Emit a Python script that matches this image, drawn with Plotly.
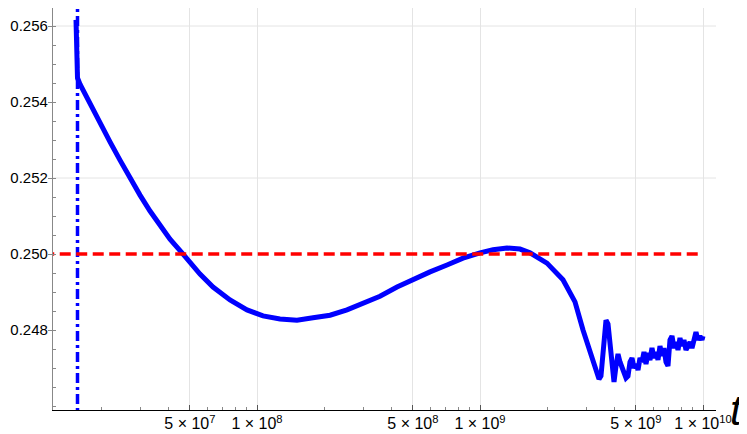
import plotly.graph_objects as go

# main curve, t values and level
t_main = [1.543e7, 1.551e7, 1.567e7, 1.608e7, 1.783e7, 1.977e7, 2.192e7, 2.430e7, 2.695e7, 2.988e7,
          3.313e7, 3.673e7, 4.073e7, 4.610e7, 5.007e7, 5.551e7, 6.350e7, 7.568e7, 9.02e7, 1.064e8,
          1.268e8, 1.511e8, 1.783e8, 2.126e8, 2.533e8, 2.988e8, 3.561e8, 4.245e8, 5.007e8, 5.969e8,
          7.112e8, 8.390e8, 1.0e9, 1.144e9, 1.321e9, 1.511e9, 1.676e9, 1.997e9, 2.356e9, 2.667e9,
          2.897e9, 3.113e9, 3.278e9, 3.417e9, 3.488e9, 3.561e9, 3.673e9, 3.750e9, 3.868e9]
v_main = [0.25616, 0.2555, 0.25463, 0.25447, 0.25395, 0.25345, 0.25295, 0.25247, 0.25200, 0.25155,
          0.25113, 0.25076, 0.25039, 0.25003, 0.24976, 0.24947, 0.24913, 0.24879, 0.24853, 0.24837,
          0.24829, 0.24826, 0.24832, 0.24839, 0.24853, 0.24871, 0.24889, 0.24913, 0.24934, 0.24953,
          0.24971, 0.24989, 0.25003, 0.25011, 0.25016, 0.25013, 0.25003, 0.24976, 0.24932, 0.24874,
          0.24800, 0.24747, 0.24700, 0.24671, 0.24679, 0.24747, 0.24826, 0.24816, 0.24742]

# noisy tail (t in units of 1e9)
t_tail = [3.990, 4.073, 4.158, 4.245, 4.333, 4.424, 4.516, 4.610, 4.706, 4.805, 4.905, 5.007,
          5.111, 5.218, 5.327, 5.438, 5.551, 5.667, 5.785, 5.905, 6.028, 6.154, 6.283, 6.414,
          6.548, 6.684, 6.824, 6.966, 7.111, 7.260, 7.411, 7.566, 7.724, 7.885, 8.049, 8.217,
          8.389, 8.564, 8.742, 8.925, 9.111, 9.301, 9.495, 9.693, 9.895, 10.0]
v_tail = [0.246632, 0.247053, 0.247368, 0.247158, 0.247000, 0.246895, 0.246737, 0.246789,
          0.247158, 0.247263, 0.247000, 0.247105, 0.246947, 0.247263, 0.247158, 0.247421,
          0.247105, 0.247395, 0.247211, 0.247526, 0.247263, 0.247421, 0.247211, 0.247579,
          0.247316, 0.247526, 0.247158, 0.247053, 0.247737, 0.247842, 0.247526, 0.247684,
          0.247474, 0.247789, 0.247579, 0.247737, 0.247474, 0.247579, 0.247684, 0.247526,
          0.247789, 0.247947, 0.247737, 0.247842, 0.247737, 0.247842]

ref_t = [1.1e7, 1e10]
ref_v = [0.25, 0.25]
start_t = [1.567e7, 1.567e7]
start_v = [0.2455, 0.2568]

x_ticks = [5e7, 1e8, 5e8, 1e9, 5e9, 1e10]
x_labels = ["5 × 10<sup>7</sup>", "1 × 10<sup>8</sup>", "5 × 10<sup>8</sup>",
            "1 × 10<sup>9</sup>", "5 × 10<sup>9</sup>", "1 × 10<sup>10</sup>"]
x_minor = [m * 10 ** e for e in (7, 8, 9) for m in range(2, 10)]
y_ticks = [0.248, 0.250, 0.252, 0.254, 0.256]
y_labels = ["0.248", "0.250", "0.252", "0.254", "0.256"]
y_grid = [0.252, 0.256]

t_all = t_main + [t * 1e9 for t in t_tail]
v_all = v_main + v_tail

fig = go.Figure()
fig.add_trace(go.Scatter(x=t_all, y=v_all, mode='lines', line=dict(color='#0000ff', width=5)))
fig.add_trace(go.Scatter(x=start_t, y=start_v, mode='lines',
                         line=dict(color='#0000ff', width=3.5, dash='10px,4px,3px,4px')))
fig.add_trace(go.Scatter(x=ref_t, y=ref_v, mode='lines',
                         line=dict(color='#ff0000', width=3.5, dash='11px,5.5px')))

for g in y_grid:
    fig.add_shape(type='line', xref='paper', x0=0, x1=1, yref='y', y0=g, y1=g,
                  line=dict(color='#e4e4e4', width=1), layer='below')

# page body adds 8px, so the figure is 8px smaller than the window
fig.update_layout(
    width=739, height=426, showlegend=False,
    margin=dict(l=45, r=31, t=0, b=24),
    plot_bgcolor='white', paper_bgcolor='white',
    font=dict(family='Liberation Sans, Arial', size=16, color='black'),
    xaxis=dict(type='log', range=[7.0852, 10.0583], tickmode='array', tickvals=x_ticks,
               ticktext=x_labels, ticks='inside', ticklen=5, tickcolor='#555',
               showgrid=True, gridcolor='#e4e4e4', showline=True, linecolor='black',
               linewidth=1.3, zeroline=False, automargin=False, ticklabelstandoff=-1,
               minor=dict(tickmode='array', tickvals=x_minor, ticks='inside', ticklen=3,
                          tickcolor='#888', showgrid=False)),
    yaxis=dict(range=[0.245895, 0.2564737], tickmode='array', tickvals=y_ticks,
               ticktext=y_labels, ticks='outside', ticklen=4, tickcolor='#888',
               showgrid=False, showline=True, linecolor='#888', linewidth=1.3, zeroline=False,
               automargin=False, ticklabelstandoff=-3, tickfont=dict(size=15),
               minor=dict(dtick=0.0005, ticks='inside', ticklen=3, tickcolor='#888',
                          showgrid=False)),
)
fig.add_annotation(text='<i>t</i>', xref='paper', yref='paper', x=1.0452, y=0.0,
                   xanchor='right', yanchor='middle', showarrow=False,
                   font=dict(size=42, family='Liberation Sans, Arial', color='black'))

fig.write_html("out.html")
